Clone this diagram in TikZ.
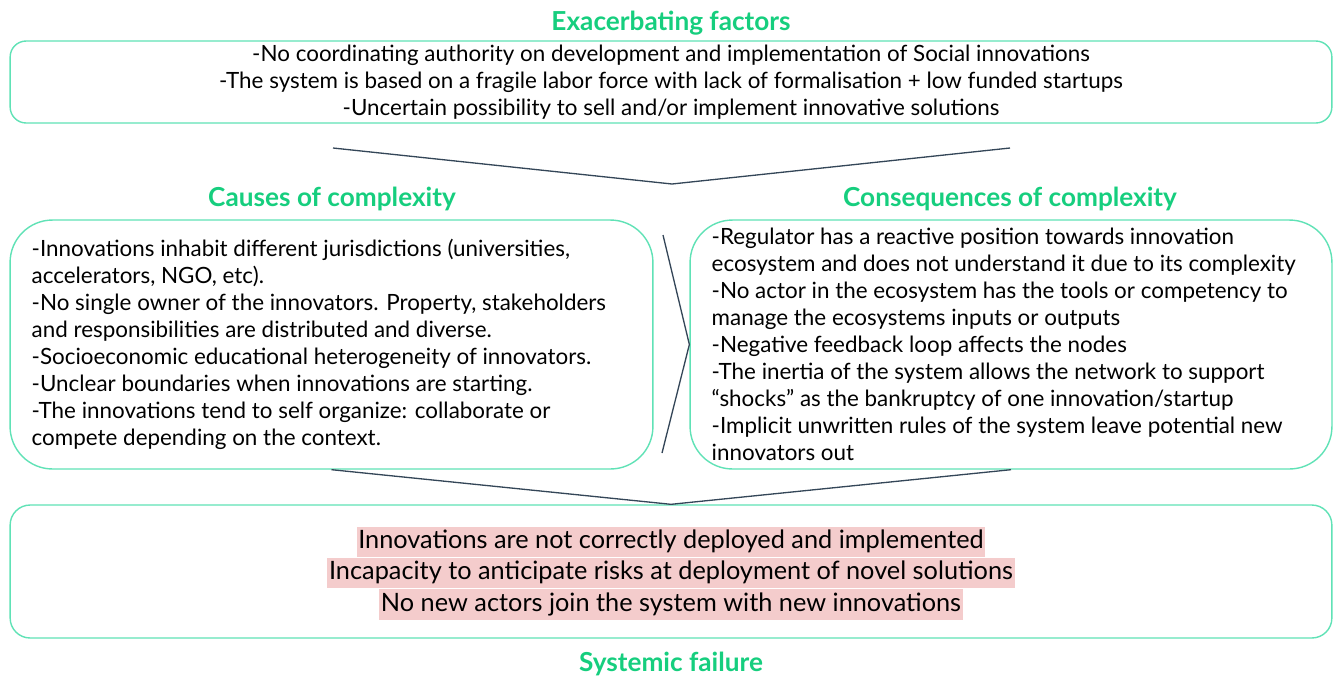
\documentclass[tikz,border=0pt]{standalone}
\usepackage{fontspec}
\setmainfont{Lato}
\usetikzlibrary{positioning}
\definecolor{headgreen}{RGB}{22,206,126}
\definecolor{boxgreen}{RGB}{96,226,182}
\definecolor{linkgray}{RGB}{52,70,88}
\definecolor{failpink}{RGB}{244,204,204}
\begin{document}
\begin{tikzpicture}[x=0.02cm,y=-0.02cm,
    panel/.style={rectangle,draw=boxgreen,line width=0.8pt,fill=white},
    heading/.style={font=\fontsize{14.9}{17}\selectfont\bfseries,text=headgreen},
    body/.style={font=\fontsize{12.75}{15.35}\selectfont,inner sep=0pt},
    failline/.style={fill=failpink,inner xsep=1pt,inner ysep=0pt,text height=0.44cm,text depth=0.17cm,font=\fontsize{14.4}{16}\selectfont},
    link/.style={draw=linkgray,line width=0.75pt}]
    \useasboundingbox (0,0) rectangle (1335,677);
    % headings
    \node[heading] (exh) at (671,23) {Exacerbating factors};
    \node[heading] (cah) at (332,199) {Causes of complexity};
    \node[heading] (coh) at (1010,199) {Consequences of complexity};
    \node[heading] (sfh) at (671,664) {Systemic failure};
    % boxes
    \node[panel,rounded corners=0.32cm,minimum width=26.44cm,minimum height=1.64cm] (exa) at (671,82) {};
    \node[panel,rounded corners=0.85cm,minimum width=12.86cm,minimum height=4.98cm] (cau) at (331.5,344.5) {};
    \node[panel,rounded corners=0.85cm,minimum width=12.84cm,minimum height=4.98cm] (con) at (1011,344.5) {};
    \node[panel,rounded corners=0.4cm,minimum width=26.44cm,minimum height=2.66cm] (fail) at (671,571.5) {};
    % texts
    \node[body,align=center] (exatext) at (exa.center) {-No coordinating authority on development and implementation of Social innovations\\
        -The system is based on a fragile labor force with lack of formalisation + low funded startups\\
        -Uncertain possibility to sell and/or implement innovative solutions};
    \node[body,align=left,anchor=west,xshift=0.44cm] (cautext) at (cau.west) {-Innovations inhabit different jurisdictions (universities,\\
        accelerators, NGO, etc).\\
        -No single owner of the innovators. Property, stakeholders\\
        and responsibilities are distributed and diverse.\\
        -Socioeconomic educational heterogeneity of innovators.\\
        -Unclear boundaries when innovations are starting.\\
        -The innovations tend to self organize: collaborate or\\
        compete depending on the context.};
    \node[body,align=left,anchor=west,xshift=0.44cm] (context) at (con.west) {-Regulator has a reactive position towards innovation\\
        ecosystem and does not understand it due to its complexity\\
        -No actor in the ecosystem has the tools or competency to\\
        manage the ecosystems inputs or outputs\\
        -Negative feedback loop affects the nodes\\
        -The inertia of the system allows the network to support\\
        “shocks” as the bankruptcy of one innovation/startup\\
        -Implicit unwritten rules of the system leave potential new\\
        innovators out};
    \node[failline] (f1) at (671,542) {Innovations are not correctly deployed and implemented};
    \node[failline,below=0pt of f1] (f2) {Incapacity to anticipate risks at deployment of novel solutions};
    \node[failline,below=0pt of f2] (f3) {No new actors join the system with new innovations};
    % joining lines
    \coordinate (vl) at (333,148);
    \coordinate (vm) at (672,184);
    \coordinate (vr) at (1010,148);
    \coordinate (gt) at (663,235);
    \coordinate (gb) at (662,453);
    \draw[link] (vl) -- (vm) -- (vr);
    \draw[link] (gt) -- (con.west) -- (gb);
    \draw[link] (cau.south) -- (fail.north) -- (con.south);
\end{tikzpicture}
\end{document}
